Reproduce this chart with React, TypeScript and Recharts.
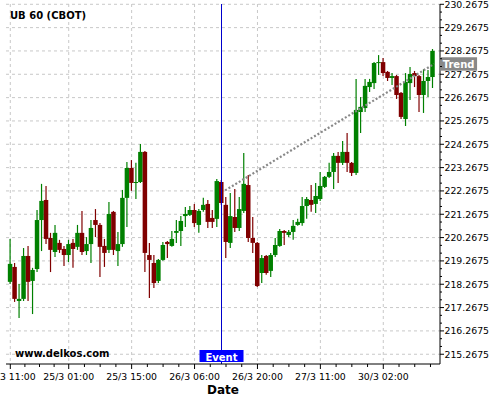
import React from 'react';
import { ComposedChart, Bar, XAxis, YAxis, CartesianGrid, ReferenceLine, ReferenceDot } from 'recharts';

const FONT = '"DejaVu Sans", Verdana, sans-serif';

const opens = [
  218.37, 219.01, 217.55, 217.64, 219.48, 218.41, 218.92, 221.02, 221.88, 220.25,
  219.65, 220.04, 219.78, 219.52, 220.04, 219.87, 220.47, 219.69, 219.99, 221.02,
  220.81, 219.91, 219.74, 221.37, 219.69, 219.99, 221.97, 223.25, 222.61, 222.65,
  223.94, 219.52, 219.18, 218.41, 219.31, 220.08, 219.91, 220.47, 220.55, 221.19,
  221.24, 221.45, 220.81, 221.45, 221.71, 221.11, 221.07, 222.65, 221.67, 220.04,
  221.15, 220.68, 221.41, 222.52, 220.25, 220.04, 218.75, 219.48, 218.84, 219.52,
  219.91, 220.55, 220.38, 220.51, 220.81, 220.89, 221.62, 221.88, 221.71, 221.92,
  222.44, 222.87, 223.08, 223.77, 223.47, 223.94, 223.47, 223.04, 225.65, 225.82,
  226.72, 226.89, 227.75, 227.79, 227.37, 227.11, 227.19, 226.47, 225.35, 226.89,
  227.32, 227.19, 226.38, 226.98, 227.15,
];
const highs = [
  220.21, 219.18, 218.28, 219.82, 219.91, 218.97, 221.45, 222.57, 222.48, 220.47,
  220.81, 220.17, 219.91, 220.17, 220.21, 220.81, 221.41, 220.29, 221.02, 221.49,
  220.89, 220.21, 221.79, 221.41, 220.51, 222.31, 223.51, 223.59, 223.47, 224.28,
  223.98, 220.04, 219.52, 219.35, 220.08, 220.12, 220.55, 221.02, 221.19, 221.58,
  221.62, 221.71, 221.49, 221.97, 221.88, 221.45, 222.78, 222.74, 222.01, 222.18,
  222.35, 222.01, 223.89, 222.95, 221.15, 220.08, 219.52, 219.52, 219.61, 220.25,
  220.64, 220.59, 220.59, 221.02, 221.07, 222.01, 222.01, 222.52, 222.61, 223.08,
  222.91, 223.47, 223.89, 223.94, 224.41, 224.75, 223.51, 227.07, 226.29, 227.07,
  227.07, 227.79, 228.09, 227.97, 227.41, 227.32, 227.24, 226.51, 227.32, 227.58,
  227.41, 227.24, 227.49, 227.45, 228.35,
];
const lows = [
  218.28, 217.51, 216.82, 217.55, 217.55, 216.99, 218.79, 219.69, 219.99, 218.79,
  219.44, 219.61, 219.05, 219.22, 218.97, 219.74, 219.52, 219.52, 219.18, 220.29,
  218.58, 219.01, 219.61, 219.52, 219.05, 219.87, 220.72, 222.27, 221.92, 222.61,
  218.79, 217.68, 218.11, 218.32, 219.27, 219.39, 219.87, 220.04, 219.91, 220.72,
  221.19, 220.72, 220.47, 221.37, 220.68, 220.68, 220.72, 221.67, 219.39, 219.82,
  220.51, 220.55, 221.32, 220.08, 219.61, 218.15, 218.32, 218.67, 218.58, 219.44,
  219.87, 219.95, 220.29, 220.17, 220.77, 220.77, 221.07, 221.37, 221.32, 221.84,
  222.39, 222.82, 222.35, 222.61, 223.38, 223.08, 222.91, 222.95, 224.75, 225.65,
  226.51, 226.64, 227.24, 227.19, 226.98, 226.81, 226.21, 225.35, 225.05, 226.17,
  226.72, 225.65, 225.61, 226.29, 226.68,
];
const closes = [
  219.14, 217.64, 217.64, 219.48, 218.37, 218.88, 221.02, 221.84, 220.21, 219.74,
  220.47, 219.74, 219.52, 219.99, 219.78, 220.47, 219.65, 219.99, 220.68, 220.81,
  219.87, 219.61, 221.28, 219.74, 219.99, 221.97, 223.25, 222.61, 222.65, 223.94,
  219.61, 219.31, 218.32, 219.31, 219.95, 219.99, 220.21, 220.55, 220.98, 221.28,
  221.45, 220.89, 221.41, 221.67, 220.94, 220.94, 222.69, 221.75, 220.08, 221.19,
  220.68, 221.49, 222.57, 220.25, 220.04, 218.19, 219.39, 218.75, 219.52, 219.95,
  220.55, 220.47, 220.51, 220.77, 220.94, 221.62, 221.92, 221.67, 222.05, 222.48,
  222.87, 223.08, 223.77, 223.47, 223.94, 223.47, 223.04, 225.74, 225.87, 226.77,
  226.94, 227.75, 227.79, 227.32, 227.11, 227.19, 226.38, 225.44, 226.94, 227.28,
  227.19, 226.38, 226.98, 227.15, 228.27,
];

const xTickIdx = [0, 13, 27, 41, 55, 69, 83];
const xTickLabels = ['24/3 11:00', '25/3 01:00', '25/3 15:00', '26/3 06:00', '26/3 20:00', '27/3 11:00', '30/3 02:00'];
const xMinorIdx = [3.25, 6.5, 9.75, 16.5, 20, 23.5, 30.5, 34, 37.5, 44.5, 48, 51.5, 58.5, 62, 65.5, 72.5, 76, 79.5, 86.5, 90, 93.5];

const yTicks = [215.2675, 216.2675, 217.2675, 218.2675, 219.2675, 220.2675, 221.2675, 222.2675,
  223.2675, 224.2675, 225.2675, 226.2675, 227.2675, 228.2675, 229.2675, 230.2675];

const eventIdx = 47;
const trendStart = { i: 47.8, v: 222.29 };
const trendEnd = { i: 94.3, v: 227.71 };

const data = opens.map((o, i) => ({ i, o, h: highs[i], l: lows[i], c: closes[i] }));

const yMinor: number[] = [];
for (let k = 0; k < yTicks.length - 1; k++) {
  const step = (yTicks[k + 1] - yTicks[k]) / 3;
  yMinor.push(yTicks[k] + step, yTicks[k] + 2 * step);
}
const yAllTicks = [...yTicks, ...yMinor].sort((a, b) => a - b);
const xAllTicks = [...xTickIdx, ...xMinorIdx].sort((a, b) => a - b);

const Candle = (props: any) => {
  let { x, y, width, height, payload } = props;
  if (!payload || height == null || isNaN(height)) return null;
  if (height < 0) { y += height; height = -height; }
  const { o, h, l, c } = payload;
  const up = c >= o;
  const color = up ? '#008000' : '#800000';
  const ppu = height / (h - l || 1);
  const top = y + (h - Math.max(o, c)) * ppu;
  const bot = y + (h - Math.min(o, c)) * ppu;
  const cx = x + width / 2;
  const bw = 4.5;
  return (
    <g>
      <line x1={cx} x2={cx} y1={y} y2={y + height} stroke={color} strokeWidth={1.2} />
      <rect x={cx - bw / 2} y={top} width={bw} height={Math.max(bot - top, 1)} fill={color} />
    </g>
  );
};

const XTick = (props: any) => {
  const { x, y, payload } = props;
  const k = xTickIdx.indexOf(payload.value);
  if (k >= 0) {
    return (
      <g>
        <line x1={x} x2={x} y1={y} y2={y + 5} stroke="#000" />
        <text x={x} y={y + 16} textAnchor="middle" fontSize={9.33} fontFamily={FONT} fill="#000">
          {xTickLabels[k]}
        </text>
      </g>
    );
  }
  return <line x1={x} x2={x} y1={y} y2={y + 3} stroke="#000" />;
};

const YTick = (props: any) => {
  const { x, y, payload } = props;
  const major = yTicks.some((t) => Math.abs(t - payload.value) < 1e-6);
  if (major) {
    return (
      <g>
        <line x1={x} x2={x + 4} y1={y} y2={y} stroke="#000" />
        <text x={x + 4.5} y={y + 3.4} fontSize={9.33} fontFamily={FONT} fill="#000">
          {payload.value.toFixed(4)}
        </text>
      </g>
    );
  }
  return <line x1={x} x2={x + 2} y1={y} y2={y} stroke="#000" />;
};

const EventTag = (props: any) => {
  const vb = props.viewBox || {};
  const cx = vb.x + (vb.width || 0) / 2;
  const bottom = Math.max(vb.y, vb.y + (vb.height || 0));
  return (
    <g>
      <rect x={cx - 22} y={bottom - 14} width={44} height={12} fill="#0000ff" />
      <text x={cx} y={bottom - 3.3} textAnchor="middle" fill="#fff" fontWeight="bold" fontSize={10} fontFamily={FONT}>
        Event
      </text>
    </g>
  );
};

const TrendTag = (props: any) => {
  const { cx, cy } = props;
  if (cx == null || cy == null) return null;
  return (
    <g>
      <rect x={cx + 5} y={cy - 6.7} width={38} height={13.4} fill="#888888" />
      <text x={cx + 24.5} y={cy + 4.3} textAnchor="middle" fill="#fff" fontWeight="bold" fontSize={10} fontFamily={FONT}>
        Trend
      </text>
    </g>
  );
};

export default function App() {
  return (
    <div style={{ position: 'absolute', left: 0, top: 0, width: 500, height: 400, background: '#fff' }}>
      <ComposedChart width={500} height={400} data={data} margin={{ top: 4, right: 0, bottom: 0, left: 6 }}>
        <CartesianGrid stroke="#c8c8c8" strokeDasharray="3 3" horizontalValues={yTicks} verticalValues={xTickIdx} />
        <XAxis
          dataKey="i"
          type="number"
          domain={[-0.957, 95.62]}
          allowDataOverflow
          ticks={xAllTicks}
          interval={0}
          tickSize={0}
          tickMargin={0}
          tickLine={false}
          tick={<XTick />}
          axisLine={{ stroke: '#000' }}
          height={36}
          label={{ value: 'Date', position: 'insideBottom', offset: 6, fontSize: 12, fontWeight: 'bold', fill: '#000', fontFamily: FONT }}
        />
        <YAxis
          orientation="right"
          type="number"
          domain={[214.849, 230.28]}
          allowDataOverflow
          ticks={yAllTicks}
          interval={0}
          tickSize={0}
          tickMargin={0}
          tickLine={false}
          tick={<YTick />}
          axisLine={{ stroke: '#000' }}
          width={60}
        />
        <Bar dataKey={(d: any) => [d.l, d.h]} barSize={4.5} shape={(p: any) => <Candle {...p} />} isAnimationActive={false} />
        <ReferenceLine
          segment={[{ x: trendStart.i, y: trendStart.v }, { x: trendEnd.i, y: trendEnd.v }]}
          stroke="#888888"
          strokeWidth={2.2}
          strokeDasharray="2 2"
        />
        <ReferenceLine x={eventIdx} stroke="#0000cc" strokeWidth={1} label={<EventTag />} />
        <ReferenceDot x={trendEnd.i} y={trendEnd.v} r={1} shape={(p: any) => <TrendTag {...p} />} />
      </ComposedChart>
      <svg width={500} height={400} style={{ position: 'absolute', left: 0, top: 0, pointerEvents: 'none' }}>
        <text x={10} y={19.3} fontSize={10} fontWeight="bold" fontFamily={FONT} fill="#000">UB 60 (CBOT)</text>
        <text x={15} y={357} fontSize={10} fontWeight="bold" fontFamily={FONT} fill="#000">www.delkos.com</text>
      </svg>
    </div>
  );
}
